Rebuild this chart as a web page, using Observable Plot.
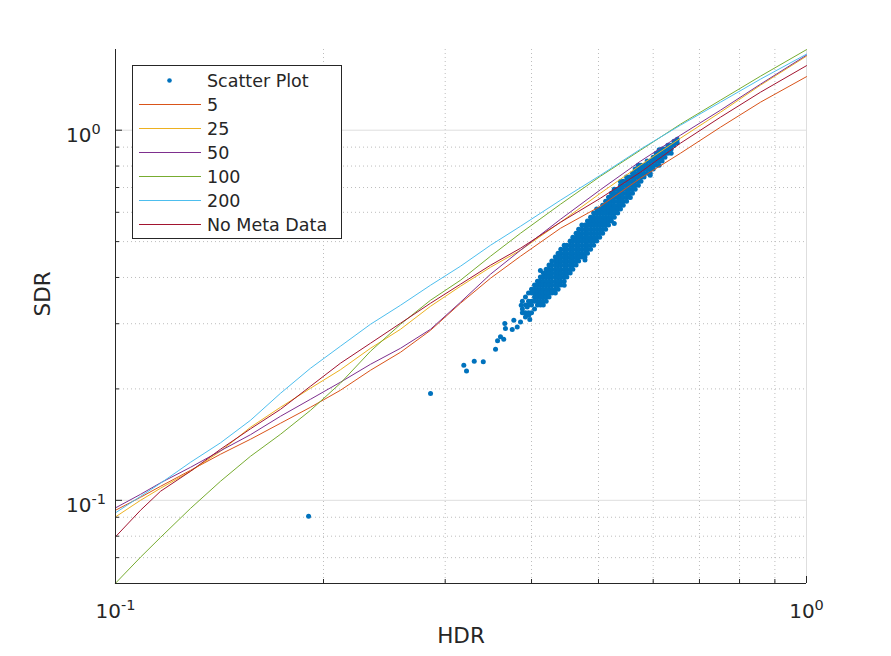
<!DOCTYPE html>
<html>
<head>
<meta charset="utf-8">
<script src="https://cdn.jsdelivr.net/npm/d3@7"></script>
<script src="https://cdn.jsdelivr.net/npm/@observablehq/plot@0.6"></script>
<style>
  html, body { margin: 0; padding: 0; background: #ffffff; overflow: hidden; }
  #chart { width: 891px; height: 656px; }
</style>
</head>
<body>
<div id="chart"></div>
<script>
// ---------- data ----------
const curveHDR = [0.1, 0.1087, 0.1162, 0.1284, 0.1419, 0.1568, 0.1733, 0.1915, 0.2116, 0.2339, 0.2585,
  0.2857, 0.3157, 0.3489, 0.3856, 0.4406, 0.5033, 0.5751, 0.6571, 0.7508, 0.8579, 1.0];

const sdr5 = [0.0940, 0.1019, 0.1091, 0.1205, 0.1332, 0.1462, 0.1615, 0.1784, 0.1983, 0.2246, 0.2512,
  0.2880, 0.3408, 0.3981, 0.4565, 0.5433, 0.6232, 0.7417, 0.8664, 1.0188, 1.1904, 1.3951];
const sdr25 = [0.0902, 0.1000, 0.1078, 0.1198, 0.1357, 0.1575, 0.1784, 0.2008, 0.2253, 0.2575, 0.2898,
  0.3344, 0.3788, 0.4263, 0.4739, 0.5640, 0.6757, 0.8043, 0.9514, 1.1184, 1.3233, 1.5849];
const sdr50 = [0.0954, 0.1038, 0.1115, 0.1228, 0.1361, 0.1504, 0.1687, 0.1875, 0.2085, 0.2331, 0.2575,
  0.2898, 0.3429, 0.4082, 0.4739, 0.5746, 0.6906, 0.8245, 0.9694, 1.1325, 1.3315, 1.5947];
const sdr100 = [0.0597, 0.0702, 0.0794, 0.0951, 0.1126, 0.1315, 0.1508, 0.1750, 0.2072, 0.2528, 0.2990,
  0.3472, 0.3932, 0.4565, 0.5267, 0.6310, 0.7510, 0.8830, 1.0381, 1.2054, 1.3995, 1.6504];
const sdr200 = [0.0925, 0.1025, 0.1112, 0.1267, 0.1430, 0.1645, 0.1946, 0.2274, 0.2608, 0.2990, 0.3365,
  0.3812, 0.4290, 0.4888, 0.5501, 0.6470, 0.7557, 0.8885, 1.0316, 1.1904, 1.3738, 1.6048];
const sdrNoMeta = [0.0797, 0.0940, 0.1058, 0.1198, 0.1374, 0.1560, 0.1761, 0.2033, 0.2346, 0.2657, 0.3009,
  0.3408, 0.3836, 0.4317, 0.4798, 0.5640, 0.6550, 0.7700, 0.9223, 1.0843, 1.2667, 1.4939];

const seriesNames = ["5", "25", "50", "100", "200", "No Meta Data"];
const seriesColors = ["#D95319", "#EDB120", "#7E2F8E", "#77AC30", "#4DBEEE", "#A2142F"];
const seriesValues = [sdr5, sdr25, sdr50, sdr100, sdr200, sdrNoMeta];

// scatter cloud: HDR columns and the SDR values seen in each column
const bandHDR = [0.388, 0.392, 0.396, 0.400, 0.404, 0.408, 0.412, 0.416, 0.420, 0.424, 0.428, 0.433, 0.437,
  0.441, 0.446, 0.450, 0.455, 0.459, 0.464, 0.468, 0.473, 0.478, 0.482, 0.487, 0.492, 0.497, 0.502, 0.507,
  0.512, 0.517, 0.522, 0.527, 0.533, 0.538, 0.543, 0.549, 0.554, 0.560, 0.565, 0.571, 0.576, 0.582, 0.588,
  0.594, 0.600, 0.606, 0.612, 0.618, 0.624, 0.630, 0.637, 0.643, 0.650];
const bandSDR = [
  [0.345, 0.329, 0.321],
  [0.354, 0.337, 0.321, 0.313],
  [0.363, 0.345, 0.337, 0.321],
  [0.372, 0.363, 0.345, 0.337, 0.321],
  [0.382, 0.372, 0.363, 0.354, 0.345, 0.329],
  [0.391, 0.382, 0.372, 0.363, 0.354, 0.345, 0.337],
  [0.401, 0.391, 0.382, 0.372, 0.363, 0.354, 0.345, 0.337],
  [0.411, 0.401, 0.391, 0.382, 0.372, 0.363, 0.354, 0.345, 0.337],
  [0.421, 0.411, 0.401, 0.391, 0.382, 0.372, 0.363, 0.354, 0.345],
  [0.432, 0.421, 0.411, 0.401, 0.391, 0.382, 0.372, 0.363, 0.354],
  [0.443, 0.432, 0.421, 0.411, 0.401, 0.391, 0.382, 0.372, 0.363],
  [0.454, 0.443, 0.432, 0.421, 0.411, 0.401, 0.391, 0.382, 0.372, 0.363],
  [0.465, 0.454, 0.443, 0.432, 0.421, 0.411, 0.401, 0.391, 0.382, 0.372],
  [0.477, 0.465, 0.454, 0.443, 0.432, 0.421, 0.411, 0.401, 0.391, 0.382],
  [0.489, 0.477, 0.465, 0.454, 0.443, 0.432, 0.421, 0.411, 0.401, 0.391],
  [0.489, 0.477, 0.465, 0.454, 0.443, 0.432, 0.421, 0.411, 0.401],
  [0.502, 0.489, 0.477, 0.465, 0.454, 0.443, 0.432, 0.421, 0.411],
  [0.514, 0.502, 0.489, 0.477, 0.465, 0.454, 0.443, 0.432, 0.421],
  [0.527, 0.514, 0.502, 0.489, 0.477, 0.465, 0.454, 0.443, 0.432],
  [0.540, 0.527, 0.514, 0.502, 0.489, 0.477, 0.465, 0.454, 0.443],
  [0.554, 0.540, 0.527, 0.514, 0.502, 0.489, 0.477, 0.465, 0.454],
  [0.554, 0.540, 0.527, 0.514, 0.502, 0.489, 0.477, 0.465, 0.454],
  [0.568, 0.554, 0.540, 0.527, 0.514, 0.502, 0.489, 0.477, 0.465],
  [0.582, 0.568, 0.554, 0.540, 0.527, 0.514, 0.502, 0.489, 0.477],
  [0.597, 0.582, 0.568, 0.554, 0.540, 0.527, 0.514, 0.502, 0.489],
  [0.612, 0.597, 0.582, 0.568, 0.554, 0.540, 0.527, 0.514, 0.502],
  [0.612, 0.597, 0.582, 0.568, 0.554, 0.540, 0.527, 0.514],
  [0.627, 0.612, 0.597, 0.582, 0.568, 0.554, 0.540, 0.527],
  [0.643, 0.627, 0.612, 0.597, 0.582, 0.568, 0.554, 0.540],
  [0.659, 0.643, 0.627, 0.612, 0.597, 0.582, 0.568, 0.554],
  [0.676, 0.659, 0.643, 0.627, 0.612, 0.597, 0.582, 0.568],
  [0.693, 0.676, 0.659, 0.643, 0.627, 0.612, 0.597, 0.582],
  [0.693, 0.676, 0.659, 0.643, 0.627, 0.612, 0.597],
  [0.710, 0.693, 0.676, 0.659, 0.643, 0.627, 0.612],
  [0.728, 0.710, 0.693, 0.676, 0.659, 0.643, 0.627],
  [0.747, 0.728, 0.710, 0.693, 0.676, 0.659, 0.643],
  [0.747, 0.728, 0.710, 0.693, 0.676, 0.659],
  [0.765, 0.747, 0.728, 0.710, 0.693, 0.676],
  [0.785, 0.765, 0.747, 0.728, 0.710, 0.693],
  [0.785, 0.765, 0.747, 0.728, 0.710],
  [0.804, 0.785, 0.765, 0.747, 0.728],
  [0.804, 0.785, 0.765, 0.747],
  [0.825, 0.804, 0.785, 0.765],
  [0.825, 0.804, 0.785, 0.765],
  [0.845, 0.825, 0.804, 0.785],
  [0.867, 0.845, 0.825, 0.804],
  [0.867, 0.845, 0.825, 0.804],
  [0.889, 0.867, 0.845, 0.825],
  [0.889, 0.867, 0.845],
  [0.911, 0.889, 0.867],
  [0.911, 0.889, 0.867],
  [0.934, 0.911],
  [0.945, 0.925]
];
const looseHDR = [0.1903, 0.2857, 0.3192, 0.3221, 0.3305, 0.3406, 0.3548, 0.3572, 0.3607, 0.3646, 0.3659,
  0.3667, 0.3751, 0.3771, 0.3814, 0.3856, 0.3865, 0.3963, 0.3977, 0.3943, 0.4285, 0.4406, 0.556,
  0.412, 0.446, 0.478, 0.527, 0.571, 0.612, 0.468, 0.538, 0.594];
const looseSDR = [0.0905, 0.1943, 0.2317, 0.2236, 0.2375, 0.2367, 0.2559, 0.2699, 0.2766, 0.2723, 0.3003,
  0.2911, 0.2893, 0.3066, 0.2940, 0.3033, 0.3365, 0.3162, 0.3079, 0.3330, 0.3656, 0.4014, 0.658,
  0.418, 0.381, 0.446, 0.560, 0.804, 0.886, 0.520, 0.727, 0.756];

const xTicks = [0.1, 1];
const yTicks = [0.1, 1];
const xMinor = [0.2, 0.3, 0.4, 0.5, 0.6, 0.7, 0.8, 0.9];
const yMinor = [0.07, 0.08, 0.09, 0.2, 0.3, 0.4, 0.5, 0.6, 0.7, 0.8, 0.9];
const xDomain = [0.1, 1];
const yDomain = [0.0596, 1.652];

// ---------- build tables ----------
const scatter = [];
bandHDR.forEach((h, i) => bandSDR[i].forEach(s => scatter.push({hdr: h, sdr: s})));
looseHDR.forEach((h, i) => scatter.push({hdr: h, sdr: looseSDR[i]}));

const lineRows = [];
seriesNames.forEach((name, k) => curveHDR.forEach((h, i) => lineRows.push({series: name, hdr: h, sdr: seriesValues[k][i]})));

const axisColor = "#262626";
const frameW = 891 - 115 - 85;
const frameH = 656 - 49 - 73;
const expFormat = d => `10^${Math.round(Math.log10(d))}`;

const chart = Plot.plot({
  width: 891,
  height: 656,
  marginLeft: 115,
  marginRight: 85,
  marginTop: 49,
  marginBottom: 73,
  style: {fontFamily: "DejaVu Sans", background: "#ffffff", color: axisColor},
  x: {type: "log", domain: xDomain, label: null},
  y: {type: "log", domain: yDomain, label: null},
  color: {domain: seriesNames, range: seriesColors},
  marks: [
    Plot.ruleX(xMinor, {stroke: "#bdbdbd", strokeDasharray: "1,3", strokeWidth: 1}),
    Plot.ruleY(yMinor, {stroke: "#bdbdbd", strokeDasharray: "1,3", strokeWidth: 1}),
    Plot.ruleX([1], {stroke: "#dedede", strokeWidth: 1}),
    Plot.ruleY(yTicks, {stroke: "#dedede", strokeWidth: 1}),
    Plot.dot(scatter, {x: "hdr", y: "sdr", r: 2.5, fill: "#0072BD", stroke: "none"}),
    Plot.line(lineRows, {x: "hdr", y: "sdr", z: "series", stroke: "series", strokeWidth: 1}),
    // axis lines
    Plot.ruleX([xDomain[0]], {stroke: axisColor, strokeWidth: 1}),
    Plot.ruleY([yDomain[0]], {stroke: axisColor, strokeWidth: 1}),
    // inward ticks
    Plot.tickY(yTicks, {stroke: axisColor, insetRight: frameW - 7}),
    Plot.tickY(yMinor, {stroke: axisColor, insetRight: frameW - 4}),
    Plot.tickX(xTicks, {stroke: axisColor, insetTop: frameH - 7}),
    Plot.tickX(xMinor, {stroke: axisColor, insetTop: frameH - 4}),
    // tick labels
    Plot.axisX(xTicks, {tickSize: 0, tickPadding: 20, fontSize: 20, tickFormat: expFormat, label: null, fill: axisColor}),
    Plot.axisY(yTicks, {tickSize: 0, tickPadding: 49.5, textAnchor: "start", dy: 5, fontSize: 20, tickFormat: expFormat, label: null, fill: axisColor}),
    // axis titles
    Plot.text(["HDR"], {frameAnchor: "bottom", text: d => d, dy: 59, fontSize: 21.5, fill: axisColor}),
    Plot.text(["SDR"], {frameAnchor: "left", text: d => d, dx: -72, rotate: -90, fontSize: 21.5, fill: axisColor})
  ]
});

document.getElementById("chart").appendChild(chart);
const svg = d3.select(chart);

// superscript exponents in tick labels
svg.selectAll('g[aria-label="x-axis tick label"] text, g[aria-label="y-axis tick label"] text').each(function () {
  const t = this.textContent;
  if (!t.includes("^")) return;
  const [base, exp] = t.split("^");
  this.textContent = base;
  d3.select(this).append("tspan").attr("dy", "-0.5em").attr("font-size", "14.5px").text(exp);
});

// legend
const legendItems = [{name: "Scatter Plot", color: "#0072BD", dot: true}]
  .concat(seriesNames.map((n, i) => ({name: n, color: seriesColors[i], dot: false})));
const lg = svg.append("g").attr("font-family", "DejaVu Sans").attr("font-size", "17.5px").attr("text-anchor", "start");
lg.append("rect").attr("x", 132.5).attr("y", 65.5).attr("width", 209).attr("height", 173)
  .attr("fill", "#ffffff").attr("stroke", axisColor).attr("stroke-width", 1);
legendItems.forEach((it, i) => {
  const cy = 80.5 + 24 * i;
  if (it.dot) {
    lg.append("circle").attr("cx", 169.5).attr("cy", cy).attr("r", 2.3).attr("fill", it.color);
  } else {
    lg.append("line").attr("x1", 139).attr("x2", 201).attr("y1", cy).attr("y2", cy)
      .attr("stroke", it.color).attr("stroke-width", 1);
  }
  lg.append("text").attr("x", 207).attr("y", cy).attr("dy", "0.36em").attr("text-anchor", "start")
    .attr("fill", axisColor).text(it.name);
});
</script>
</body>
</html>
